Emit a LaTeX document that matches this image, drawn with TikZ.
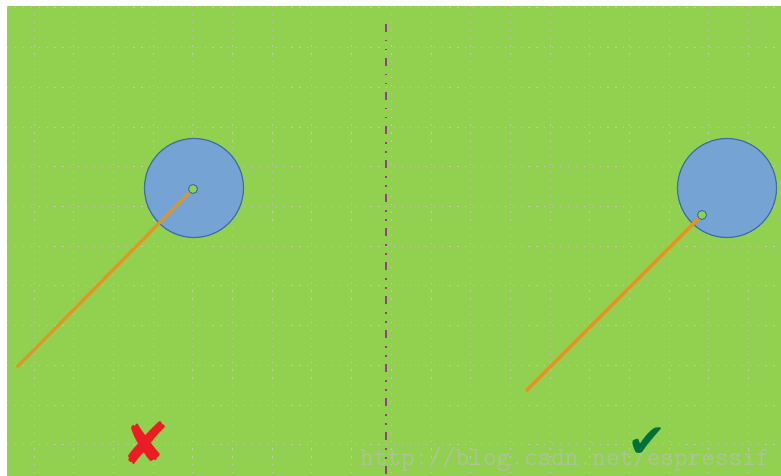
\documentclass[tikz,border=0pt]{standalone}
\usepackage{fontspec}
\newfontfamily\symfont{DejaVu Sans}
\definecolor{bggreen}{RGB}{146,208,80}
\definecolor{gridgray}{RGB}{196,200,186}
\definecolor{circfill}{RGB}{116,163,212}
\definecolor{circline}{RGB}{62,110,170}
\definecolor{rodorange}{RGB}{226,150,32}
\definecolor{axispurple}{RGB}{150,60,140}
\definecolor{xred}{RGB}{236,28,36}
\definecolor{checkgreen}{RGB}{0,112,60}
\definecolor{wmgray}{RGB}{172,196,150}
\tikzset{
  gridline/.style={gridgray, line width=1pt, dash pattern=on 1.2pt off 6.7pt},
  bigcirc/.style={circle, draw=circline, fill=circfill, line width=1.2pt, minimum size=99pt, inner sep=0pt},
  pivot/.style={circle, draw=circline, fill=bggreen, line width=1pt, minimum size=9pt, inner sep=0pt},
  rod/.style={rodorange, line width=3.2pt},
  axisline/.style={axispurple, line width=1.6pt, dash pattern=on 8pt off 8pt on 1.5pt off 7.5pt on 1.5pt off 7.5pt},
  verdict/.style={inner sep=0pt}
}
\begin{document}
\begin{tikzpicture}[x=1pt,y=-1pt]
\useasboundingbox (0,0) rectangle (781,476);
\fill[white] (0,0) rectangle (781,476);
\fill[bggreen] (7,6) rectangle (781,476);
\foreach \k in {0,...,18} {
  \draw[gridline] ({34+39.7*\k},6) -- ({34+39.7*\k},476);
}
\foreach \k in {0,...,11} {
  \draw[gridline] (7,{8+39.7*\k}) -- (781,{8+39.7*\k});
}
\draw[axisline] (386,24) -- (386,476);
% left
\node[bigcirc] (cL) at (194,188) {};
\node[pivot] (pL) at (193,189) {};
\coordinate (eL) at (17,367);
\draw[rod] (eL) -- (pL);
% right
\node[bigcirc] (cR) at (727,188) {};
\node[pivot] (pR) at (702,215) {};
\coordinate (eR) at (526,391);
\draw[rod] (eR) -- (pR);
% watermark
\node[anchor=base west, inner sep=0pt, font=\ttfamily\fontsize{26.5}{26.5}\selectfont, text=wmgray] (wm) at (360,465) {http://blog.csdn.net/espressif};
% marks
\node[verdict, xred, font=\symfont\fontsize{58}{58}\selectfont] (wrong) at (146,443) {✘};
\node[verdict, checkgreen, font=\symfont\fontsize{47}{47}\selectfont] (right) at (647,443) {✔};
\end{tikzpicture}
\end{document}
